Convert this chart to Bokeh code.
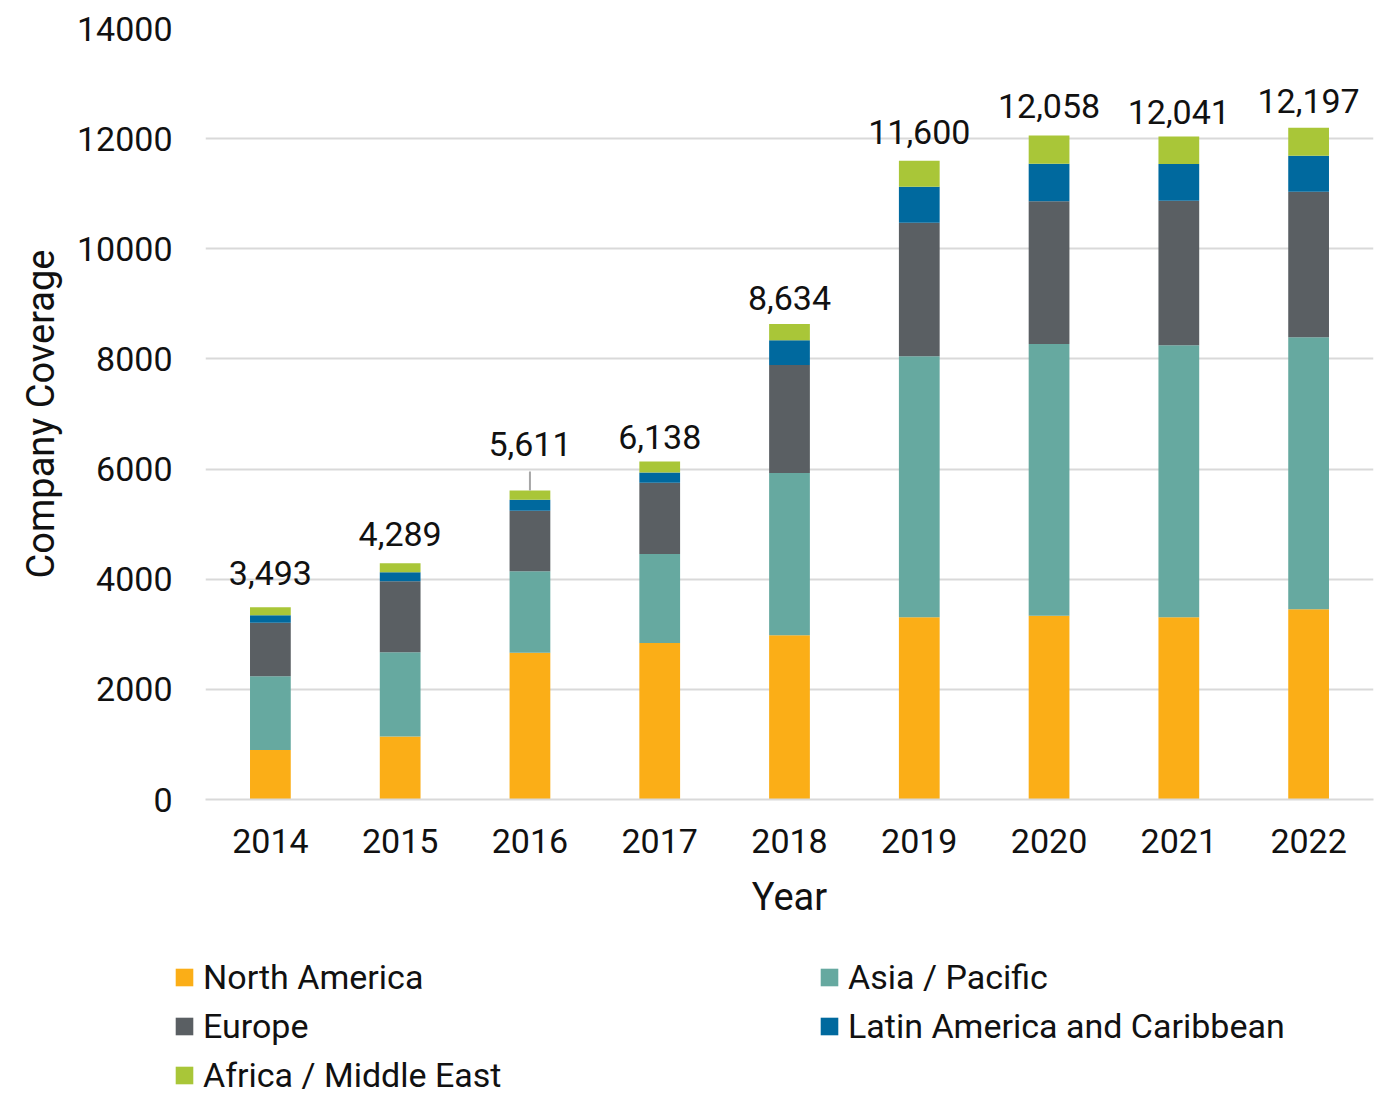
from bokeh.plotting import figure
from bokeh.models import (ColumnDataSource, Legend, LegendItem, FixedTicker,
                          Range1d, FactorRange)
from bokeh.layouts import column
from bokeh.embed import file_html
from bokeh.resources import INLINE
from bokeh.core.properties import value

# ---------------- data ----------------
years = ["2014", "2015", "2016", "2017", "2018", "2019", "2020", "2021", "2022"]
north_america = [900, 1145, 2665, 2842, 2982, 3309, 3338, 3309, 3455]
asia_pacific = [1336, 1528, 1480, 1618, 2945, 4738, 4935, 4938, 4938]
europe = [975, 1291, 1097, 1291, 1964, 2426, 2592, 2626, 2643]
latin_america = [134, 163, 200, 187, 447, 654, 680, 665, 655]
africa_me = [148, 162, 169, 200, 296, 473, 513, 503, 506]
totals = [3493, 4289, 5611, 6138, 8634, 11600, 12058, 12041, 12197]
y_ticks = [0, 2000, 4000, 6000, 8000, 10000, 12000, 14000]

series_names = ["North America", "Asia / Pacific", "Europe",
                "Latin America and Caribbean", "Africa / Middle East"]
series_keys = ["na", "ap", "eu", "la", "af"]
colors = ["#FBAE17", "#66A9A0", "#5A5F63", "#00699E", "#A9C638"]

# styling: label offsets above bar tops (pixels)
label_offsets = [-34, -29, -46, -24, -26, -29, -29, -24, -27]
FONT = "Roboto"
TXT = "#111111"

src = ColumnDataSource(dict(
    year=years, na=north_america, ap=asia_pacific, eu=europe,
    la=latin_america, af=africa_me,
    total=totals, label=[f"{t:,}" for t in totals], offset=label_offsets,
))

p = figure(x_range=FactorRange(*years), y_range=Range1d(0, 14000),
           width=1380, height=930, output_backend="svg", toolbar_location=None,
           min_border_left=205, min_border_right=7, min_border_top=28,
           min_border_bottom=131)
p.outline_line_color = None
p.background_fill_color = "white"
p.border_fill_color = "white"
p.frame_align = False

renderers = p.vbar_stack(series_keys, x="year", width=0.314, source=src,
                         fill_color=colors, line_color=None)

# total labels
p.text(x="year", y="total", text="label", source=src, y_offset="offset",
       text_font=value(FONT), text_font_size="34px", text_color=TXT,
       text_align="center", text_baseline="middle")

# leader line for the 2016 label
px_per_unit = 771 / 14000
lead_src = ColumnDataSource(dict(x=[years[2]], y0=[totals[2]],
                                 y1=[totals[2] + 19 / px_per_unit]))
p.segment(x0="x", y0="y0", x1="x", y1="y1", source=lead_src,
          line_color="#a6a6a6", line_width=2)

# axes
p.xgrid.grid_line_color = None
p.ygrid.grid_line_color = "#d9d9d9"
p.ygrid.grid_line_width = 2
p.yaxis.ticker = FixedTicker(ticks=y_ticks)

for ax in (p.xaxis[0], p.yaxis[0]):
    ax.major_tick_line_color = None
    ax.minor_tick_line_color = None
    ax.major_tick_out = 0
    ax.major_tick_in = 0
    ax.major_label_text_font = FONT
    ax.major_label_text_font_size = "34px"
    ax.major_label_text_color = TXT
    ax.axis_label_text_font = FONT
    ax.axis_label_text_font_size = "38px"
    ax.axis_label_text_font_style = "normal"
    ax.axis_label_text_color = TXT

p.yaxis.axis_line_color = None
p.xaxis.axis_line_color = "#d9d9d9"
p.xaxis.axis_line_width = 2
p.yaxis.major_label_standoff = 33
p.xaxis.major_label_standoff = 29
p.yaxis.axis_label = "Company Coverage"
p.xaxis.axis_label = "Year"
p.yaxis.axis_label_standoff = 11
p.xaxis.axis_label_standoff = 19

# ---------------- legend panel ----------------
lg = figure(width=1380, height=166, x_range=Range1d(0, 1), y_range=Range1d(0, 1),
            output_backend="svg", toolbar_location=None,
            min_border_left=0, min_border_right=0, min_border_top=0,
            min_border_bottom=0, x_axis_location=None, y_axis_location=None)
lg.outline_line_color = None
lg.grid.visible = False
lg.frame_align = False
# zero-height swatch renderers: only their colours are used, by the legend
swatches = [lg.vbar(x=[0.5], top=[0], bottom=[0], width=0.1, fill_color=c,
                    line_color=None)
            for c in colors]


def make_legend(idx, x, y):
    items = [LegendItem(label=series_names[i], renderers=[swatches[i]]) for i in idx]
    return Legend(items=items, location=(x, y), orientation="vertical",
                  padding=0, spacing=9, glyph_width=22, glyph_height=22,
                  label_height=40, label_standoff=8,
                  label_text_font=FONT, label_text_font_size="34px",
                  label_text_color=TXT, border_line_color=None,
                  background_fill_alpha=0)


lg.add_layout(make_legend([0, 2, 4], 173, 1), "center")
lg.add_layout(make_legend([1, 3], 818, 50), "center")

open("out.html", "w").write(file_html(column(p, lg, spacing=0), INLINE))
